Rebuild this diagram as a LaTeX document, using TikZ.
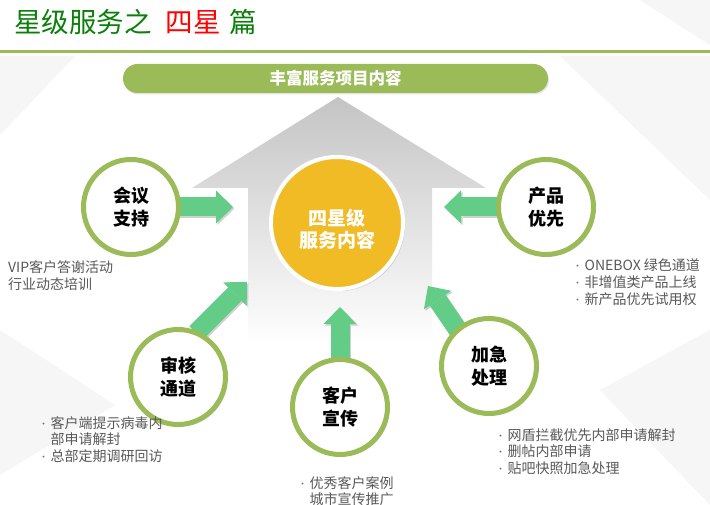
\documentclass[tikz,border=0pt]{standalone}
\usepackage{fontspec}
\setmainfont{Noto Sans CJK SC}
\usetikzlibrary{arrows.meta,shadows,calc}
\definecolor{olive}{RGB}{155,187,89}
\definecolor{titlegreen}{RGB}{10,128,10}
\definecolor{titlered}{RGB}{255,0,0}
\definecolor{arrgreen}{RGB}{99,204,135}
\definecolor{sunyellow}{RGB}{241,187,38}
\definecolor{txtgray}{RGB}{89,89,89}
\definecolor{bulgray}{RGB}{110,110,110}
\definecolor{housegray}{RGB}{196,196,196}
\definecolor{polygray}{RGB}{246,246,246}
\newcommand\lbul{\makebox[11.5pt][l]{\raisebox{1pt}{\fontsize{9}{9}\selectfont\textcolor{bulgray}{•}}}}
\pgfdeclarelayer{back}
\pgfdeclarelayer{mid}
\pgfsetlayers{back,mid,main}
\begin{document}
\begin{tikzpicture}[x=1pt,y=-1pt,
  outercirc/.style={circle, draw=olive, line width=5pt, fill=white, minimum size=95pt,
    inner sep=0pt, align=center, font=\fontsize{18}{23}\selectfont\bfseries,
    drop shadow={opacity=0.3, shadow xshift=2pt, shadow yshift=-2pt}},
  suncirc/.style={circle, draw=white, line width=4pt, fill=sunyellow, minimum size=132pt,
    inner sep=0pt, drop shadow={opacity=0.3, shadow xshift=2pt, shadow yshift=-2pt}},
  sunlabel/.style={inner sep=0pt, align=center, text=white, font=\fontsize{19}{22}\selectfont\bfseries},
  pill/.style={rectangle, rounded corners=14.5pt, fill=olive, minimum width=425pt,
    minimum height=29pt, text=white, font=\fontsize{16.5}{18}\selectfont\bfseries,
    drop shadow={opacity=0.2, shadow xshift=1pt, shadow yshift=-1.5pt}},
  listtext/.style={inner sep=0pt, anchor=base west, text=txtgray,
    font=\fontsize{14}{16.5}\selectfont},
  arr/.style={draw=arrgreen, line width=19pt, line cap=butt,
    -{Triangle[length=17pt,width=33pt,line width=0pt]}},
  arrshadow/.style={draw=black, opacity=0.18, line width=19pt, line cap=butt,
    -{Triangle[length=17pt,width=33pt,line width=0pt]}}
]
\useasboundingbox (0,0) rectangle (710,505);
\begin{pgfonlayer}{back}
  \fill[white] (0,0) rectangle (710,505);
  \fill[polygray] (560,56) -- (710,56) -- (710,200) -- cycle;
  \fill[polygray] (0,56) -- (75,56) -- (0,135) -- cycle;
  \fill[polygray] (600,390) -- (710,330) -- (710,505) -- cycle;
  \fill[polygray] (0,330) -- (115,405) -- (0,475) -- cycle;
  \fill[polygray] (640,0) -- (710,0) -- (710,45) -- cycle;
  % grey house arrow
  \shade[top color=housegray, bottom color=white]
    (338,97) -- (486,188) -- (432,188) -- (432,345) -- (248,345) -- (248,188) -- (192,188) -- cycle;
\end{pgfonlayer}

% title and rule
\node[anchor=base west, inner sep=0pt, text=titlegreen, font=\fontsize{27.5}{30}\selectfont]
  (title) at (14,33) {星级服务之\hspace{14pt}\textcolor{titlered}{四星}\hspace{9pt}篇};
\draw[olive, line width=3pt] (0,52) -- (710,52);

% banner
\node[pill] (banner) at (335.5,78.5) {丰富服务项目内容};

% center
\node[suncirc] (sun) at (337,223) {};
\node[sunlabel] (sunText) at ($(sun.center)+(0,6)$) {四星级\\服务内容};

% outer circles
\node[outercirc] (c1) at (131,207) {会议\\支持};
\node[outercirc] (c2) at (546,207) {产品\\优先};
\node[outercirc] (c3) at (178,377) {审核\\通道};
\node[outercirc] (c4) at (340,407) {客户\\宣传};
\node[outercirc] (c5) at (489,366) {加急\\处理};

% arrow coordinates
\coordinate (s1) at (c1.center);
\coordinate (t1) at (233,207);
\coordinate (s2) at (c2.center);
\coordinate (t2) at (444,207);
\coordinate (s3) at ($(c3.center)+(18,-44)$);
\coordinate (t3) at (247,282);
\coordinate (s4) at (c4.center);
\coordinate (t4) at (340,307);
\coordinate (s5) at ($(c5.center)+(-27,-30)$);
\coordinate (t5) at (428,286);

\begin{pgfonlayer}{mid}
  \foreach \s/\t in {s1/t1, s2/t2, s3/t3, s4/t4, s5/t5}{
    \draw[arrshadow] ([shift={(1.5,1.5)}]\s) -- ([shift={(1.5,1.5)}]\t);
    \draw[arr] (\s) -- (\t);
  }
\end{pgfonlayer}

% lists
\node[listtext] (l1) at (8,273) {\begin{tabular}[t]{@{}l@{}}VIP客户答谢活动\\行业动态培训\end{tabular}};
\node[listtext] (l2) at (573,271) {\begin{tabular}[t]{@{}l@{}l@{}}\lbul & ONEBOX 绿色通道\\ \lbul & 非增值类产品上线\\ \lbul & 新产品优先试用权\end{tabular}};
\node[listtext] (l3) at (39,428) {\begin{tabular}[t]{@{}l@{}l@{}}\lbul & 客户端提示病毒内\\ & 部申请解封\\ \lbul & 总部定期调研回访\end{tabular}};
\node[listtext] (l4) at (298,488) {\begin{tabular}[t]{@{}l@{}l@{}}\lbul & 优秀客户案例\\ & 城市宣传推广\end{tabular}};
\node[listtext] (l5) at (496,440) {\begin{tabular}[t]{@{}l@{}l@{}}\lbul & 网盾拦截优先内部申请解封\\ \lbul & 删帖内部申请\\ \lbul & 贴吧快照加急处理\end{tabular}};
\end{tikzpicture}
\end{document}
